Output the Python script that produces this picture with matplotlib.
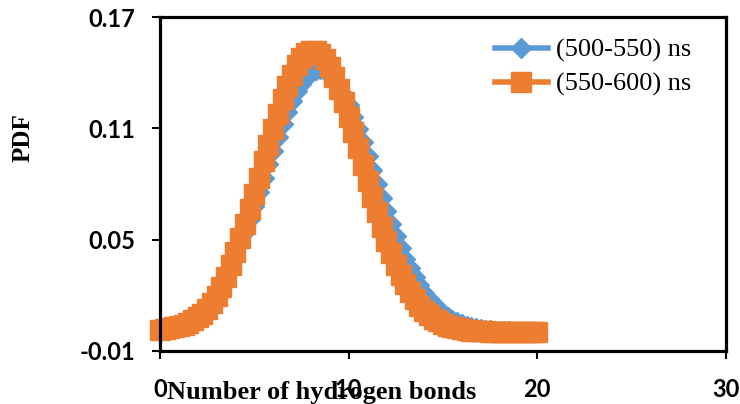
import matplotlib
matplotlib.use("Agg")
import matplotlib.pyplot as plt

# Number of hydrogen bonds (bin centres)
n_hbonds = [
    0.0, 0.25, 0.5, 0.75, 1.0, 1.25, 1.5, 1.75, 2.0, 2.25, 2.5, 2.75,
    3.0, 3.25, 3.5, 3.75, 4.0, 4.25, 4.5, 4.75, 5.0, 5.25, 5.5, 5.75,
    6.0, 6.25, 6.5, 6.75, 7.0, 7.25, 7.5, 7.75, 8.0, 8.25, 8.5, 8.75,
    9.0, 9.25, 9.5, 9.75, 10.0, 10.25, 10.5, 10.75, 11.0, 11.25, 11.5, 11.75,
    12.0, 12.25, 12.5, 12.75, 13.0, 13.25, 13.5, 13.75, 14.0, 14.25, 14.5, 14.75,
    15.0, 15.25, 15.5, 15.75, 16.0, 16.25, 16.5, 16.75, 17.0, 17.25, 17.5, 17.75,
    18.0, 18.25, 18.5, 18.75, 19.0, 19.25, 19.5, 19.75, 20.0,
]

# PDF over the 500-550 ns window
pdf_500_550 = [
    0.0018, 0.0023, 0.0029, 0.0035, 0.0042, 0.0052, 0.0064, 0.0078, 0.0095, 0.0116, 0.0141, 0.0173,
    0.0212, 0.0256, 0.0305, 0.0360, 0.0418, 0.0479, 0.0543, 0.0611, 0.0682, 0.0756, 0.0831, 0.0907,
    0.0981, 0.1054, 0.1124, 0.1189, 0.1248, 0.1300, 0.1343, 0.1378, 0.1402, 0.1416, 0.1420, 0.1412,
    0.1394, 0.1365, 0.1327, 0.1280, 0.1225, 0.1163, 0.1096, 0.1025, 0.0952, 0.0876, 0.0801, 0.0726,
    0.0654, 0.0584, 0.0517, 0.0455, 0.0397, 0.0344, 0.0295, 0.0252, 0.0213, 0.0179, 0.0149, 0.0123,
    0.0101, 0.0082, 0.0067, 0.0053, 0.0042, 0.0034, 0.0026, 0.0020, 0.0016, 0.0012, 0.0009, 0.0007,
    0.0005, 0.0004, 0.0003, 0.0002, 0.0002, 0.0001, 0.0001, 0.0001, 0.0000,
]

# PDF over the 550-600 ns window
pdf_550_600 = [
    0.0012, 0.0016, 0.0020, 0.0025, 0.0031, 0.0040, 0.0051, 0.0064, 0.0080, 0.0100, 0.0124, 0.0156,
    0.0195, 0.0242, 0.0296, 0.0362, 0.0434, 0.0508, 0.0583, 0.0663, 0.0747, 0.0834, 0.0922, 0.1010,
    0.1097, 0.1180, 0.1258, 0.1328, 0.1390, 0.1441, 0.1480, 0.1506, 0.1519, 0.1517, 0.1502, 0.1473,
    0.1432, 0.1378, 0.1315, 0.1243, 0.1164, 0.1080, 0.0993, 0.0904, 0.0816, 0.0730, 0.0646, 0.0567,
    0.0494, 0.0425, 0.0363, 0.0307, 0.0257, 0.0214, 0.0176, 0.0143, 0.0116, 0.0093, 0.0073, 0.0058,
    0.0045, 0.0035, 0.0026, 0.0020, 0.0015, 0.0011, 0.0008, 0.0006, 0.0004, 0.0003, 0.0002, 0.0002,
    0.0001, 0.0001, 0.0001, 0.0000, 0.0000, 0.0000, 0.0000, 0.0000, 0.0000,
]

x_ticks = [0, 10, 20, 30]
y_ticks = [-0.01, 0.05, 0.11, 0.17]
y_tick_labels = ["-0.01", "0.05", "0.11", "0.17"]

BLUE = "#5B9BD5"
ORANGE = "#ED7D31"
SERIF = "Liberation Serif"
SANS = "Lato"

fig = plt.figure(figsize=(7.4, 4.04), dpi=100)
ax = fig.add_axes([0.2162, 0.1324, 0.7648, 0.8243])

ax.plot(n_hbonds, pdf_500_550, color=BLUE, lw=4, marker="D", ms=10,
        mec=BLUE, mfc=BLUE, clip_on=False, label="(500-550) ns", zorder=2)
ax.plot(n_hbonds, pdf_550_600, color=ORANGE, lw=4, marker="s", ms=14,
        mec=ORANGE, mfc=ORANGE, clip_on=False, label="(550-600) ns", zorder=2.1)

ax.set_xlim(0, 30)
ax.set_ylim(-0.01, 0.17)
ax.set_xticks(x_ticks)
ax.set_xticklabels([str(t) for t in x_ticks])
ax.set_yticks(y_ticks)
ax.set_yticklabels(y_tick_labels)

for spine in ax.spines.values():
    spine.set_linewidth(2.3)
    spine.set_color("black")
    spine.set_zorder(3)

ax.tick_params(axis="both", direction="out", length=6, width=1.5, color="black")
ax.tick_params(axis="y", pad=12)
ax.tick_params(axis="x", pad=14)
for lbl in ax.get_xticklabels() + ax.get_yticklabels():
    lbl.set_fontfamily(SANS)
    lbl.set_fontweight("bold")
    lbl.set_fontsize(17)

ax.set_xlabel("Number of hydrogen bonds", fontfamily=SERIF, fontweight="bold", fontsize=19)
ax.xaxis.set_label_coords(0.285, -0.125)
ax.xaxis.label.set_verticalalignment("center")
ax.set_ylabel("PDF", fontfamily=SERIF, fontweight="bold", fontsize=18)
ax.yaxis.set_label_coords(-0.242, 0.639)
ax.yaxis.label.set_verticalalignment("center")

ax.legend(loc="upper left", bbox_to_anchor=(0.669, 0.905), bbox_transform=fig.transFigure,
          frameon=False, borderpad=0, borderaxespad=0, handlelength=2.0,
          handletextpad=0.3, labelspacing=0.39,
          prop={"family": SERIF, "size": 19})

fig.savefig("out.png", dpi=100)
